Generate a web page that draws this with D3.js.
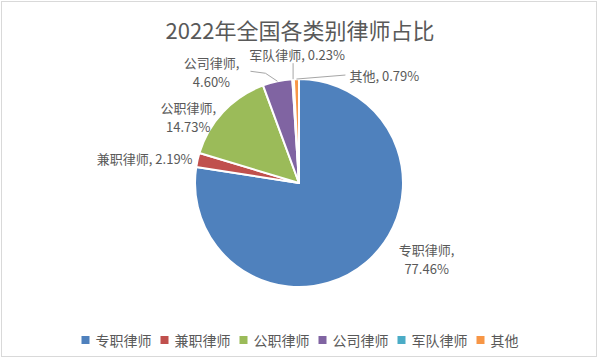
<!DOCTYPE html>
<html>
<head>
<meta charset="utf-8">
<script src="https://cdn.jsdelivr.net/npm/d3@7"></script>
<style>
  body { margin: 0; background: #fff; }
  text { font-family: "Noto Sans CJK SC", "Noto Sans", sans-serif; }
</style>
</head>
<body>
<div id="chart"></div>
<script>
// data
const categories = ["专职律师", "兼职律师", "公职律师", "公司律师", "军队律师", "其他"];
const shares = [77.46, 2.19, 14.73, 4.60, 0.23, 0.79];
const colors = ["#4F81BD", "#C0504D", "#9BBB59", "#8064A2", "#4BACC6", "#F79646"];

const width = 600, height = 360;
const cx = 299, cy = 183, radius = 104;

// label placement relative to the point on the outer arc at each slice's mid angle
// split: label on two lines; leader: bend points relative to arc point
const labelLayout = [
  { dx: 60, dy: -3, anchor: "middle", split: true },
  { dx: -5, dy: -1, anchor: "end", split: false },
  { dx: -35, dy: 5, anchor: "middle", split: true },
  { dx: -66, dy: -9, anchor: "middle", split: true, leader: [[-12, -8], [-27, -10]] },
  { dx: 4, dy: -24.5, anchor: "middle", split: false, leader: [[0, -16]] },
  { dx: 53, dy: -4, anchor: "start", split: false, leader: [[49, -4]] }
];

const svg = d3.select("#chart")
  .append("svg")
  .attr("width", width)
  .attr("height", height);

// chart area border
svg.append("rect")
  .attr("x", 1.5).attr("y", 1.5)
  .attr("width", width - 5).attr("height", height - 5)
  .attr("fill", "#fff")
  .attr("stroke", "#d9d9d9");

// title
svg.append("text")
  .attr("x", width / 2)
  .attr("y", 29)
  .attr("text-anchor", "middle")
  .attr("dominant-baseline", "central")
  .style("font-size", "22px")
  .attr("fill", "#595959")
  .text("2022年全国各类别律师占比");

const pie = d3.pie().sort(null).value(d => d);
const arcs = pie(shares);
const arc = d3.arc().innerRadius(0).outerRadius(radius);

const g = svg.append("g").attr("transform", `translate(${cx},${cy})`);

g.selectAll("path.slice")
  .data(arcs)
  .enter()
  .append("path")
  .attr("class", "slice")
  .attr("d", arc)
  .attr("fill", (d, i) => colors[i])
  .attr("stroke", "#fff")
  .attr("stroke-width", 2)
  .attr("stroke-linejoin", "round");

// data labels
arcs.forEach((d, i) => {
  const mid = (d.startAngle + d.endAngle) / 2;
  const px = radius * Math.sin(mid);
  const py = -radius * Math.cos(mid);
  const lay = labelLayout[i];
  const pct = shares[i].toFixed(2) + "%";

  if (lay.leader) {
    const pts = [[px, py]].concat(lay.leader.map(p => [px + p[0], py + p[1]]));
    g.append("path")
      .attr("d", d3.line()(pts))
      .attr("fill", "none")
      .attr("stroke", "#a6a6a6")
      .attr("stroke-width", 1);
  }

  const lines = lay.split ? [categories[i] + ",", pct] : [categories[i] + ", " + pct];
  lines.forEach((s, k) => {
    const off = lay.split ? (k === 0 ? -9.5 : 9.5) : 0;
    g.append("text")
      .attr("x", px + lay.dx)
      .attr("y", py + lay.dy + off)
      .attr("text-anchor", lay.anchor)
      .attr("dominant-baseline", "central")
      .attr("fill", "#595959")
      .style("font-size", "13px")
      .text(s);
  });
});

// legend, centered at the bottom
const legend = svg.append("g");
let lx = 0;
categories.forEach((c, i) => {
  const item = legend.append("g").attr("transform", `translate(${lx},0)`);
  item.append("rect")
    .attr("x", 0).attr("y", -4)
    .attr("width", 8).attr("height", 8)
    .attr("fill", colors[i]);
  const txt = item.append("text")
    .attr("x", 14).attr("y", 0)
    .attr("dominant-baseline", "central")
    .attr("fill", "#595959")
    .style("font-size", "14px")
    .text(c);
  lx += 14 + txt.node().getComputedTextLength() + 9;
});
const legendWidth = lx - 9;
legend.attr("transform", `translate(${(width - legendWidth) / 2},340)`);
</script>
</body>
</html>
